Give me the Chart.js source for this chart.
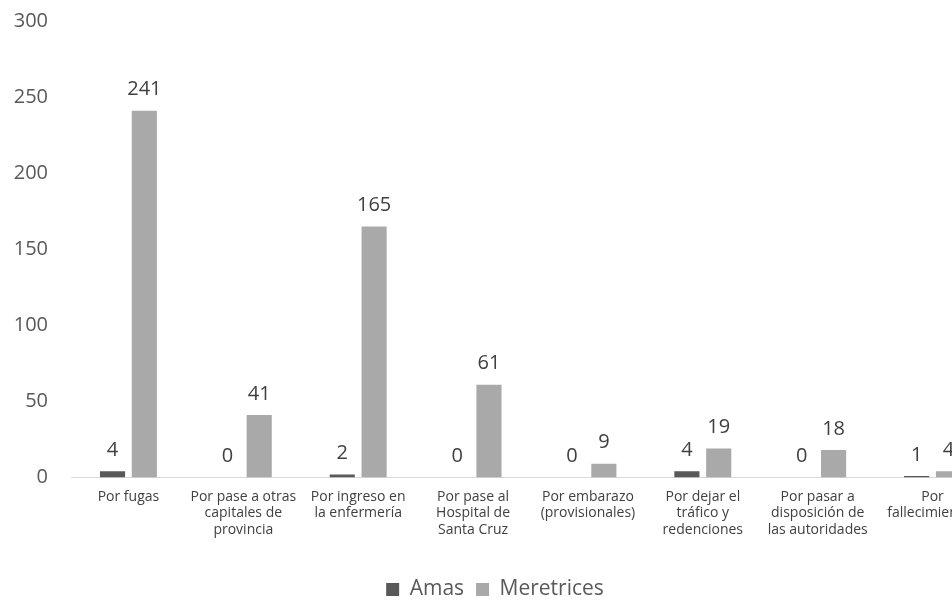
<!DOCTYPE html>
<html>
<head>
<meta charset="utf-8">
<script src="https://cdn.jsdelivr.net/npm/chart.js@4.4.0/dist/chart.umd.min.js"></script>
<style>
  html, body { margin: 0; padding: 0; background: #fff; overflow: hidden; }
  #wrap { width: 952px; height: 600px; overflow: hidden; }
</style>
</head>
<body>
<div id="wrap"><canvas id="bajas" width="990" height="600"></canvas></div>
<script>
// categorías (una línea por renglón de la etiqueta)
const categorias = [
  ['Por fugas'],
  ['Por pase a otras', 'capitales de', 'provincia'],
  ['Por ingreso en', 'la enfermería'],
  ['Por pase al', 'Hospital de', 'Santa Cruz'],
  ['Por embarazo', '(provisionales)'],
  ['Por dejar el', 'tráfico y', 'redenciones'],
  ['Por pasar a', 'disposición de', 'las autoridades'],
  ['Por', 'fallecimientos']
];
const amas = [4, 0, 2, 0, 0, 4, 0, 1];
const meretrices = [241, 41, 165, 61, 9, 19, 18, 4];
const ticksY = [0, 50, 100, 150, 200, 250, 300];

// escribe el valor encima de cada barra
const etiquetasValor = {
  id: 'etiquetasValor',
  afterDatasetsDraw(chart) {
    const ctx = chart.ctx;
    ctx.save();
    ctx.font = '20px "Open Sans", sans-serif';
    ctx.fillStyle = '#404040';
    ctx.textAlign = 'center';
    ctx.textBaseline = 'bottom';
    chart.data.datasets.forEach((ds, i) => {
      chart.getDatasetMeta(i).data.forEach((bar, j) => {
        ctx.fillText(String(ds.data[j]), bar.x, bar.y - 11);
      });
    });
    ctx.restore();
  }
};

new Chart(document.getElementById('bajas'), {
  type: 'bar',
  data: {
    labels: categorias,
    datasets: [
      { label: 'Amas', data: amas, backgroundColor: '#595959' },
      { label: 'Meretrices', data: meretrices, backgroundColor: '#a9a9a9' }
    ]
  },
  options: {
    responsive: false,
    animation: false,
    layout: { padding: { top: 21, left: 0, right: 0, bottom: -10 } },
    datasets: { bar: { categoryPercentage: 0.554, barPercentage: 0.79 } },
    scales: {
      y: {
        min: 0,
        max: 300,
        afterBuildTicks(axis) { axis.ticks = ticksY.map(v => ({ value: v })); },
        afterFit(axis) {
          axis.width = 71;
          axis.paddingTop = 0;
          axis.paddingBottom = 0;
        },
        grid: { display: false },
        border: { display: false },
        ticks: {
          color: '#595959',
          font: { family: '"Open Sans", sans-serif', size: 20 },
          padding: 15
        }
      },
      x: {
        afterFit(axis) { axis.height += 26; },
        grid: { display: false },
        border: { color: '#d9d9d9', width: 1 },
        ticks: {
          color: '#404040',
          font: { family: '"Open Sans", sans-serif', size: 14, lineHeight: 1.18 },
          padding: 3,
          maxRotation: 0,
          autoSkip: false
        }
      }
    },
    plugins: {
      legend: {
        position: 'bottom',
        labels: {
          color: '#595959',
          font: { family: '"Open Sans", sans-serif', size: 21 },
          boxWidth: 13,
          boxHeight: 13,
          padding: 12
        }
      },
      tooltip: { enabled: false }
    }
  },
  plugins: [etiquetasValor]
});
</script>
</body>
</html>
